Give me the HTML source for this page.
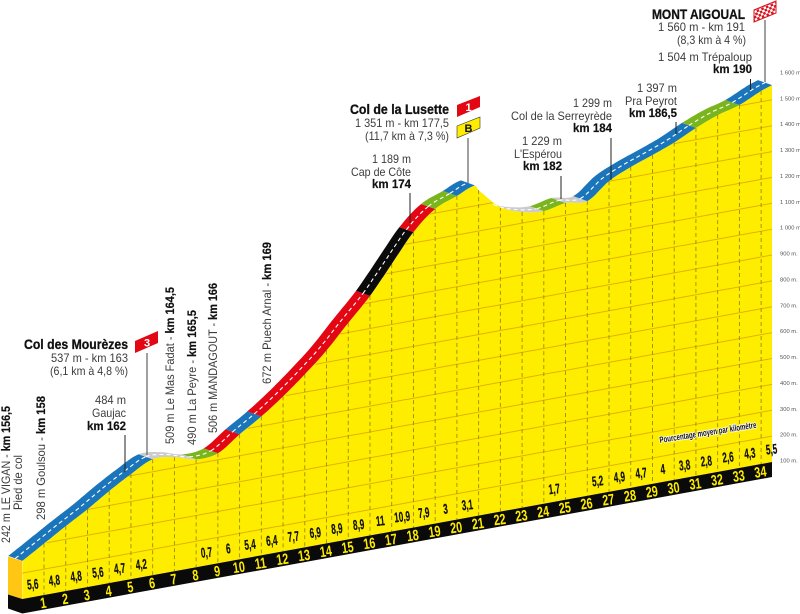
<!DOCTYPE html>
<html lang="fr">
<head>
<meta charset="utf-8">
<title>Profil Mont Aigoual</title>
<style>
html,body{margin:0;padding:0;background:#fff;width:800px;height:614px;overflow:hidden}
svg{display:block}
text{font-family:"Liberation Sans",sans-serif}
.t{font-size:12px;fill:#3c3c3c;text-anchor:end}
.b{font-size:12px;font-weight:bold;fill:#111;text-anchor:end;stroke:#111;stroke-width:.2}
.h{font-size:13.5px;font-weight:bold;fill:#111;text-anchor:end;stroke:#111;stroke-width:.3}
.r{font-size:12px;fill:#3c3c3c}
.rb{font-size:12px;fill:#111;font-weight:bold;stroke:#111;stroke-width:.2}
.lead{stroke:#222;stroke-width:1}
.pole{stroke:#777;stroke-width:1.4}
</style>
</head>
<body>
<svg id="chart" width="800" height="614" viewBox="0 0 800 614" xmlns="http://www.w3.org/2000/svg">
  <defs>
    <pattern id="chk" width="5" height="5" patternUnits="userSpaceOnUse" patternTransform="rotate(-22)">
      <rect width="5" height="5" fill="#fff"/>
      <rect width="2.5" height="2.5" fill="#d8141e"/>
      <rect x="2.5" y="2.5" width="2.5" height="2.5" fill="#d8141e"/>
    </pattern>
  </defs>
  <g id="layer-terrain"></g>
  <g id="layer-bands"></g>
  <g id="layer-axis"></g>
  <g id="layer-labels"></g>

  <g>
    <line class="pole" x1="765" y1="20" x2="765" y2="82"/>
    <polygon points="754,10 776,1 776,13 754,22" fill="url(#chk)" stroke="#d8141e" stroke-width="1"/>
    <text class="h" x="745" y="19" textLength="93" lengthAdjust="spacingAndGlyphs">MONT AIGOUAL</text>
    <text class="t" x="745" y="31" textLength="87" lengthAdjust="spacingAndGlyphs">1 560 m -  km 191</text>
    <text class="t" x="746" y="44" textLength="69" lengthAdjust="spacingAndGlyphs">(8,3 km à 4 %)</text>
    <text class="t" x="752" y="61" textLength="94" lengthAdjust="spacingAndGlyphs">1 504 m Trépaloup</text>
    <text class="b" x="752" y="73" textLength="39" lengthAdjust="spacingAndGlyphs">km 190</text>
    <line class="lead" x1="750.5" y1="79" x2="750.5" y2="90"/>
  </g>

  <g>
    <text class="t" x="677" y="92" textLength="40" lengthAdjust="spacingAndGlyphs">1 397 m</text>
    <text class="t" x="677" y="105" textLength="52" lengthAdjust="spacingAndGlyphs">Pra Peyrot</text>
    <text class="b" x="677" y="117" textLength="48" lengthAdjust="spacingAndGlyphs">km 186,5</text>
    <line class="lead" x1="676" y1="122" x2="676" y2="134"/>
  </g>

  <g>
    <text class="t" x="612" y="107" textLength="39" lengthAdjust="spacingAndGlyphs">1 299 m</text>
    <text class="t" x="612" y="120" textLength="101" lengthAdjust="spacingAndGlyphs">Col de la Serreyrède</text>
    <text class="b" x="612" y="132" textLength="39" lengthAdjust="spacingAndGlyphs">km 184</text>
    <line class="lead" x1="611" y1="138" x2="611" y2="180"/>
  </g>

  <g>
    <text class="t" x="562" y="145" textLength="40" lengthAdjust="spacingAndGlyphs">1 229 m</text>
    <text class="t" x="562" y="158" textLength="48" lengthAdjust="spacingAndGlyphs">L'Espérou</text>
    <text class="b" x="562" y="170" textLength="39" lengthAdjust="spacingAndGlyphs">km 182</text>
    <line class="lead" x1="561" y1="176" x2="561" y2="199"/>
  </g>

  <g>
    <line class="pole" x1="468" y1="138" x2="468" y2="183"/>
    <polygon points="457,105 480,96 480,107 457,117" fill="#e30613"/>
    <text x="468.5" y="111" text-anchor="middle" font-size="11" font-weight="bold" fill="#fff">1</text>
    <polygon points="457,126 480,117 480,128 457,138" fill="#ffed00" stroke="#333" stroke-width=".6"/>
    <text x="468.5" y="132" text-anchor="middle" font-size="11" font-weight="bold" fill="#111">B</text>
    <text class="h" x="449" y="114" textLength="99" lengthAdjust="spacingAndGlyphs">Col de la Lusette</text>
    <text class="t" x="449" y="127" textLength="94" lengthAdjust="spacingAndGlyphs">1 351 m - km 177,5</text>
    <text class="t" x="449" y="140" textLength="84" lengthAdjust="spacingAndGlyphs">(11,7 km à 7,3 %)</text>
    <text class="t" x="411" y="163" textLength="39" lengthAdjust="spacingAndGlyphs">1 189 m</text>
    <text class="t" x="411" y="176" textLength="60" lengthAdjust="spacingAndGlyphs">Cap de Côte</text>
    <text class="b" x="411" y="188" textLength="39" lengthAdjust="spacingAndGlyphs">km 174</text>
    <line class="lead" x1="410" y1="193" x2="410" y2="223"/>
  </g>

  <g>
    <line class="pole" x1="147" y1="353" x2="147" y2="455"/>
    <polygon points="135,341 158,331 158,343 135,353" fill="#e30613"/>
    <text x="147" y="346.5" text-anchor="middle" font-size="11" font-weight="bold" fill="#fff">3</text>
    <text class="h" x="128" y="349" textLength="104" lengthAdjust="spacingAndGlyphs">Col des Mourèzes</text>
    <text class="t" x="128" y="362" textLength="77" lengthAdjust="spacingAndGlyphs">537 m - km 163</text>
    <text class="t" x="128" y="375" textLength="78" lengthAdjust="spacingAndGlyphs">(6,1 km à 4,8 %)</text>
    <text class="t" x="126" y="404" textLength="31" lengthAdjust="spacingAndGlyphs">484 m</text>
    <text class="t" x="126" y="417" textLength="34" lengthAdjust="spacingAndGlyphs">Gaujac</text>
    <text class="b" x="126" y="430" textLength="39" lengthAdjust="spacingAndGlyphs">km 162</text>
    <line class="lead" x1="125" y1="435" x2="125" y2="472"/>
  </g>

  <g>
    <text class="r" transform="translate(10,543) rotate(-90)" textLength="137" lengthAdjust="spacingAndGlyphs">242 m LE VIGAN - <tspan class="rb">km 156,5</tspan></text>
    <text class="r" transform="translate(22,510) rotate(-90)" textLength="55" lengthAdjust="spacingAndGlyphs">Pied de col</text>
    <text class="r" transform="translate(45,520) rotate(-90)" textLength="124" lengthAdjust="spacingAndGlyphs">298 m Goulsou - <tspan class="rb">km 158</tspan></text>
    <text class="r" transform="translate(174,444) rotate(-90)" textLength="157" lengthAdjust="spacingAndGlyphs">509 m Le Mas Fadat - <tspan class="rb">km 164,5</tspan></text>
    <text class="r" transform="translate(196,445) rotate(-90)" textLength="135" lengthAdjust="spacingAndGlyphs">490 m La Peyre - <tspan class="rb">km 165,5</tspan></text>
    <text class="r" transform="translate(217,433) rotate(-90)" textLength="150" lengthAdjust="spacingAndGlyphs">506 m MANDAGOUT - <tspan class="rb">km 166</tspan></text>
    <text class="r" transform="translate(271,384) rotate(-90)" textLength="142" lengthAdjust="spacingAndGlyphs">672 m Puech Arnal - <tspan class="rb">km 169</tspan></text>
  </g>

  <text transform="translate(660,443) rotate(-9)" font-size="9" font-weight="bold" fill="#111" stroke="#fff" stroke-width="1.6" paint-order="stroke" textLength="98" lengthAdjust="spacingAndGlyphs">Pourcentage moyen par kilomètre</text>
</svg>

<script>
// Profile: distance from the start (km) and altitude (m)
const distanceKm = [0,1,2,3,4,5,6,7,8,9,10,11,12,13,14,15,16,17,18,19,20,20.83,21,22,23,24,25,26,27,28,29,30,31,32,33,34,34.5];
const elevationM = [247,299,351,401,456,506,548,541,517,525,583,637,699,769,846,937,1026,1134,1242,1316,1351,1379,1358,1278,1243,1231,1247,1239,1301,1340,1371,1404,1445,1479,1503,1542,1557];

// Printed gradient per kilometre (blank where the original prints nothing)
const gradeLabels = ["5,6","4,8","4,8","5,6","4,7","4,2","","","0,7","6","5,4","6,4","7,7","6,9","8,9","8,9","11","10,9","7,9","3","3,1","","","","1,7","","5,2","4,9","4,7","4","3,8","2,8","2,6","4,3","5,5"];

// Kilometre markers on the black strip
const kmMarkers = [1,2,3,4,5,6,7,8,9,10,11,12,13,14,15,16,17,18,19,20,21,22,23,24,25,26,27,28,29,30,31,32,33,34];

// Difficulty bands along the road
const bandStartKm = [0,6,8,9,10,11,16,18,19,20,22,24,25,26,31,33];
const bandEndKm   = [6,8,9,10,11,16,18,19,20,20.83,24,25,26,31,33,34.5];
const bandLevel   = ["easy","flat","gentle","hard","easy","hard","extreme","hard","gentle","easy","flat","gentle","flat","easy","gentle","easy"];

// Altitude axis
const axisTicksM = [100,200,300,400,500,600,700,800,900,1000,1100,1200,1300,1400,1500,1600];
const axisTickLabels = ["100 m.","200 m.","300 m.","400 m.","500 m.","600 m.","700 m.","800 m.","900 m.","1 000 m.","1 100 m.","1 200 m.","1 300 m.","1 400 m.","1 500 m.","1 600 m."];

const NS = "http://www.w3.org/2000/svg";
const levelColor = {easy:"#1b75bb",flat:"#cbcbcb",gentle:"#7ab51d",hard:"#e30613",extreme:"#0b0b0b"};
const levelName = {easy:"blue",flat:"grey",gentle:"green",hard:"red",extreme:"black"};

function xScale(km){ return 22.3 + 21.73 * km; }
function baseTop(x){ return 462 + (772 - x) * 0.1827; }
function yScale(km, m){ const x = xScale(km); return baseTop(x) - (m - 100) * 0.2587; }

// Smooth reading of the profile between the data points (Hermite curve)
function tangent(i){
  const a = Math.max(i-1, 0), b = Math.min(i+1, distanceKm.length-1);
  return (elevationM[b]-elevationM[a]) / (distanceKm[b]-distanceKm[a]);
}
function elevationAt(km){
  for(let i = 1; i < distanceKm.length; i++){
    if(km <= distanceKm[i]){
      const h = distanceKm[i] - distanceKm[i-1];
      const t = (km - distanceKm[i-1]) / h;
      const t2 = t*t, t3 = t2*t;
      return (2*t3-3*t2+1)*elevationM[i-1] + (t3-2*t2+t)*h*tangent(i-1)
           + (-2*t3+3*t2)*elevationM[i] + (t3-t2)*h*tangent(i);
    }
  }
  return elevationM[elevationM.length-1];
}
function routeBetween(start, end){
  const route = [];
  for(let k = start; k < end; k += 0.125){ route.push([xScale(k), yScale(k, elevationAt(k))]); }
  route.push([xScale(end), yScale(end, elevationAt(end))]);
  return route;
}
function make(tag, attrs, parent){
  const el = document.createElementNS(NS, tag);
  for(const k in attrs){ el.setAttribute(k, attrs[k]); }
  parent.appendChild(el);
  return el;
}
function pts(list){ return list.map(p => p[0].toFixed(1) + "," + p[1].toFixed(1)).join(" "); }

const terrain = document.getElementById("layer-terrain");
const bands = document.getElementById("layer-bands");
const axisLayer = document.getElementById("layer-axis");
const labels = document.getElementById("layer-labels");

const lastKm = distanceKm[distanceKm.length-1];
const endX = xScale(lastKm);
const startX = xScale(0);

// Yellow slope
const profile = routeBetween(0, lastKm);
const yellowPts = profile.concat([[endX, baseTop(endX)],[startX, baseTop(startX)]]);

const slope = make("polygon", {points:pts(yellowPts), fill:"#ffed00"}, terrain);



// Altitude grid lines, drawn only where the terrain rises above them
const gridGroup = make("g", {}, terrain);


axisTicksM.forEach(m => {
  if(m === axisTicksM[0]){ return; }
  let run = [];
  const flush = () => {
    if(run.length > 1){
      const g = make("polyline", {points:pts(run), fill:"none", stroke:"#dfb400", "stroke-width":1}, gridGroup);
      
      
    }
    run = [];
  };
  for(let k = 0; k <= lastKm; k += 0.125){
    if(elevationAt(k) > m){ run.push([xScale(k), yScale(k, m)]); } else { flush(); }
  }
  flush();
});

// Left face
const face = make("polygon", {points:"8,556.5 22,561 22,599 8,594.5", fill:"#ffc713"}, terrain);



// Black kilometre strip
const strip = make("polygon", {
  points:pts([[8,594.5],[startX,baseTop(startX)],[endX,baseTop(endX)],[endX,baseTop(endX)+15],[startX,baseTop(startX)+14.5],[8,608.5]]),
  fill:"#0a0a0a"
}, terrain);



// Dashed kilometre verticals
kmMarkers.forEach(k => {
  const x = xScale(k);
  const v = make("line", {
    x1:x, x2:x, y1:yScale(k, elevationAt(k)), y2:baseTop(x),
    stroke:"#9a8c10", "stroke-width":.9, "stroke-dasharray":"4 3"
  }, terrain);
  
  
});

// Road bands, leaning back by a fixed offset
const backDx = -14, backDy = -5;
bandStartKm.forEach((start,i) => {
  const end = bandEndKm[i];
  const route = routeBetween(start, end);
  const back = route.map(p => [p[0]+backDx, p[1]+backDy]).reverse();
  const band = make("polygon", {points:pts(route.concat(back)), fill:levelColor[bandLevel[i]]}, bands);
  
  
  const mid = route.map(p => [p[0]+backDx/2, p[1]+backDy/2]);
  const dash = make("polyline", {points:pts(mid), fill:"none", stroke:"#fff", "stroke-width":1.1, "stroke-dasharray":"4 3"}, bands);
  
  
});

// Altitude axis labels
axisTicksM.forEach((m,i) => {
  const t = make("text", {
    x:780, y:72 + (1600-m)*0.2587 + 2.5,
    "font-size":5.8, fill:"#555"
  }, axisLayer);
  t.textContent = axisTickLabels[i];
  
  
});

// Gradient labels
gradeLabels.forEach((label,i) => {
  if(!label){ return; }
  const x = Math.min(xScale(i + 0.5), endX);
  const y = baseTop(x) - 13;
  const t = make("text", {
    transform:"translate(" + x.toFixed(1) + "," + (y+5).toFixed(1) + ") rotate(-6) scale(.58,1)",
    "text-anchor":"middle", "font-size":14, "font-weight":"bold", fill:"#111", stroke:"#111", "stroke-width":.25
  }, labels);
  t.textContent = label;
  
  
});

// Kilometre numbers
kmMarkers.forEach(k => {
  const x = xScale(k);
  const y = baseTop(x) + 7.5;
  const t = make("text", {
    transform:"translate(" + x.toFixed(1) + "," + (y+5.5).toFixed(1) + ") rotate(-8) scale(.72,1)",
    "text-anchor":"middle", "font-size":15, "font-weight":"bold", fill:"#ffed00"
  }, labels);
  t.textContent = String(k);
  
  
});
</script>
</body>
</html>
